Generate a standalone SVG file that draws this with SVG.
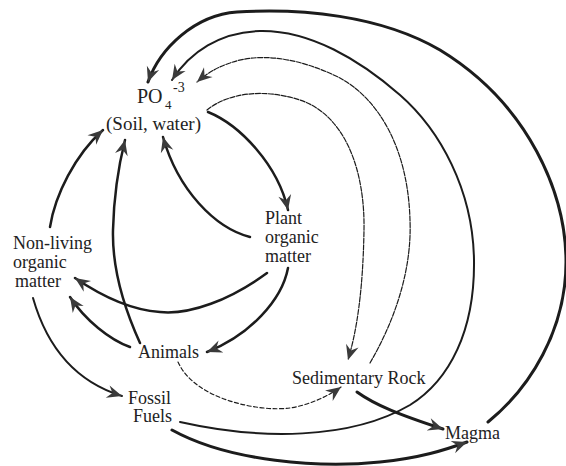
<svg xmlns="http://www.w3.org/2000/svg" width="566" height="466" viewBox="0 0 566 466">
<style>
.t{font-family:"Liberation Serif","Times New Roman",serif;font-size:18px;fill:#222}
.c{fill:none;stroke:#1c1c1c;stroke-linecap:round;stroke-linejoin:round}
.w3{stroke-width:3}
.w25{stroke-width:2.5}
.w2{stroke-width:2}
.thin{stroke-width:1.2;stroke-dasharray:5 1.5}
.dash{stroke-width:1.2;stroke-dasharray:4 2.5}
</style>
<defs>
<marker id="ah" viewBox="-17 -8 19 16" refX="0" refY="0" markerWidth="19" markerHeight="16" markerUnits="userSpaceOnUse" orient="auto">
<path d="M0,0 L-15,-6.5 L-10,0 L-15,6.5 Z" fill="#3a3a3a"/>
</marker>
</defs>
<rect width="566" height="466" fill="#fff"/>
<g id="connectors">
<path class="c w3" marker-end="url(#ah)" d="M488,422 C530,388 566,330 566,262 C566,195 530,105 440,50 C380,15 300,8 237,12 C195,15 160,48 148,82"/>
<path class="c w2" marker-end="url(#ah)" d="M180,422 C260,440 350,440 410,405 C450,380 475,330 474,260 C473,190 440,130 400,95 C360,60 310,30 260,31 C220,32 190,52 172,80"/>
<path class="c thin" marker-end="url(#ah)" d="M370,363 C395,320 412,270 410,220 C408,150 380,100 340,78 C300,58 260,52 230,63 C215,68 205,75 197,82"/>
<path class="c thin" marker-end="url(#ah)" d="M207,110 C225,95 260,87 300,100 C345,115 365,170 364,230 C363,290 357,330 348,360"/>
<path class="c w25" marker-end="url(#ah)" d="M208,112 C240,125 278,165 288,210"/>
<path class="c w25" marker-end="url(#ah)" d="M250,237 C215,228 178,190 163,137"/>
<path class="c w25" marker-end="url(#ah)" d="M140,343 C125,310 112,270 113,230 C114,190 120,160 125,140"/>
<path class="c w25" marker-end="url(#ah)" d="M50,227 C55,195 75,155 103,130"/>
<path class="c w25" marker-end="url(#ah)" d="M267,273 C230,300 190,315 160,312 C130,310 100,295 75,278"/>
<path class="c w25" marker-end="url(#ah)" d="M288,268 C282,300 250,335 207,352"/>
<path class="c w25" marker-end="url(#ah)" d="M130,347 C110,340 85,320 70,297"/>
<path class="c w2" marker-end="url(#ah)" d="M33,298 C45,340 70,380 122,396"/>
<path class="c dash" marker-end="url(#ah)" d="M178,362 C195,400 260,412 290,408 C310,405 330,395 341,387"/>
<path class="c w3" marker-end="url(#ah)" d="M357,392 C375,405 400,415 443,429"/>
<path class="c w3" marker-end="url(#ah)" d="M172,430 C230,462 320,468 380,462 C420,458 445,450 467,442"/>
</g>
<g id="po4">
<text class="t" x="137" y="103" style="font-size:20px">PO</text>
<text class="t" x="165" y="109" style="font-size:13px">4</text>
<text class="t" x="173" y="92" style="font-size:14px">-3</text>
<text class="t" x="106" y="130" style="font-size:19px">(Soil, water)</text>
</g>
<g id="nonliving">
<text class="t" x="13" y="249">Non-living</text>
<text class="t" x="13" y="268">organic</text>
<text class="t" x="15" y="287">matter</text>
</g>
<g id="plant">
<text class="t" x="265" y="224">Plant</text>
<text class="t" x="265" y="243">organic</text>
<text class="t" x="265" y="262">matter</text>
</g>
<g id="animals">
<text class="t" x="138" y="358">Animals</text>
</g>
<g id="fossil">
<text class="t" x="128" y="404">Fossil</text>
<text class="t" x="133" y="422">Fuels</text>
</g>
<g id="sedimentary">
<text class="t" x="292" y="384">Sedimentary Rock</text>
</g>
<g id="magma">
<text class="t" x="445" y="439">Magma</text>
</g>
</svg>
